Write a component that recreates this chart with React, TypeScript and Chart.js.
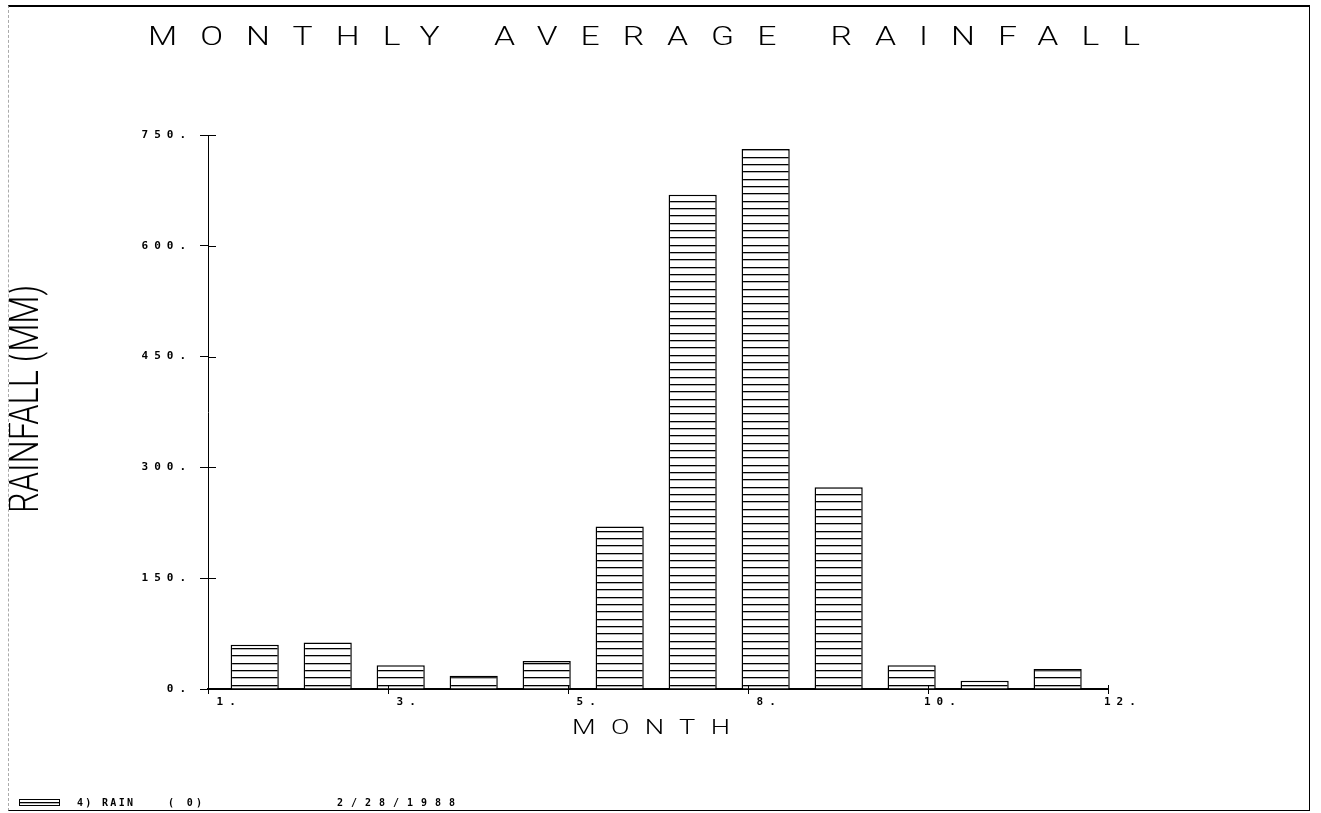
import React, { useEffect, useRef } from 'react';
import { Chart, registerables } from 'chart.js';

Chart.register(...registerables);

const TITLE = 'MONTHLY AVERAGE RAINFALL';
const X_TITLE = 'MONTH';
const Y_TITLE = 'RAINFALL (MM)';
const MONTHS = [1, 2, 3, 4, 5, 6, 7, 8, 9, 10, 11, 12];
const RAINFALL = [60, 63, 32, 18, 38, 220, 669, 731, 273, 32, 11, 27];
const Y_TICKS = [0, 150, 300, 450, 600, 750];
const X_TICKS = [1, 3.2, 5.4, 7.6, 9.8, 12];
const LEGEND_PARTS = ['4) RAIN', '( 0)', '2/28/1988'];

const MONO = '"DejaVu Sans Mono", monospace';

function makeStripes(ctx: CanvasRenderingContext2D): CanvasPattern | string {
  const c = document.createElement('canvas');
  c.width = 8;
  c.height = 22;
  const g = c.getContext('2d');
  if (!g) return '#fff';
  g.fillStyle = '#fff';
  g.fillRect(0, 0, 8, 22);
  g.fillStyle = '#000';
  [3, 10, 18].forEach((y) => g.fillRect(0, y, 8, 1.3));
  return ctx.createPattern(c, 'repeat') || '#fff';
}

function drawSpaced(
  ctx: CanvasRenderingContext2D,
  text: string,
  x: number,
  y: number,
  width: number,
  font: string,
  align: 'left' | 'center' = 'left',
  sx = 1
) {
  ctx.save();
  ctx.font = font;
  (ctx as any).letterSpacing = '0px';
  const local = width / sx;
  const w = ctx.measureText(text).width;
  const ls = text.length > 1 ? (local - w) / (text.length - 1) : 0;
  (ctx as any).letterSpacing = ls + 'px';
  ctx.textAlign = 'left';
  const start = align === 'center' ? x - width / 2 : x;
  ctx.translate(start, y);
  ctx.scale(sx, 1);
  ctx.fillText(text, 0, 0);
  ctx.restore();
}

export default function App() {
  const ref = useRef<HTMLCanvasElement>(null);

  useEffect(() => {
    const canvas = ref.current;
    if (!canvas) return;
    const ctx0 = canvas.getContext('2d');
    if (!ctx0) return;
    const stripes = makeStripes(ctx0);

    const decor = {
      id: 'decor',
      beforeDraw(chart: any) {
        (chart.ctx as any).letterSpacing = '6px';
      },
      afterDraw(chart: any) {
        const ctx: CanvasRenderingContext2D = chart.ctx;
        const { left, bottom } = chart.chartArea;
        ctx.save();
        (ctx as any).letterSpacing = '0px';
        ctx.strokeStyle = '#000';
        ctx.lineWidth = 1;
        // inner halves of the cross ticks
        const ys = chart.scales.y;
        ys.ticks.forEach((t: any) => {
          const py = Math.round(ys.getPixelForValue(t.value)) + 0.5;
          ctx.beginPath();
          ctx.moveTo(left, py);
          ctx.lineTo(left + 8, py);
          ctx.stroke();
        });
        const xs = chart.scales.x;
        xs.ticks.forEach((t: any) => {
          const px = Math.round(xs.getPixelForValue(t.value)) + 0.5;
          ctx.beginPath();
          ctx.moveTo(px, bottom);
          ctx.lineTo(px, bottom - 4);
          ctx.stroke();
        });

        ctx.fillStyle = '#000';
        ctx.textBaseline = 'alphabetic';
        // title
        drawSpaced(ctx, TITLE, 635, 38, 992, '300 25px Roboto, sans-serif', 'center', 1.35);
        // x axis title
        drawSpaced(ctx, X_TITLE, 642, 727, 158, '300 21px Roboto, sans-serif', 'center', 1.3);
        // y axis title (rotated, condensed)
        ctx.save();
        ctx.translate(18, 392);
        ctx.rotate(-Math.PI / 2);
        ctx.font = '300 42px Roboto, sans-serif';
        (ctx as any).letterSpacing = '0px';
        const w = ctx.measureText(Y_TITLE).width;
        ctx.scale(228 / w, 1);
        ctx.textAlign = 'center';
        ctx.textBaseline = 'middle';
        ctx.fillText(Y_TITLE, 0, 0);
        ctx.restore();

        // legend
        ctx.fillStyle = stripes as any;
        ctx.fillRect(10, 792, 40, 6);
        ctx.strokeRect(10.5, 792.5, 40, 6);
        ctx.fillStyle = '#000';
        ctx.textBaseline = 'middle';
        const font = 'bold 10px ' + MONO;
        drawSpaced(ctx, LEGEND_PARTS[0], 68, 796, 56, font);
        drawSpaced(ctx, LEGEND_PARTS[1], 159, 796, 34, font);
        drawSpaced(ctx, LEGEND_PARTS[2], 328, 796, 118, font);
        ctx.restore();
      },
    };

    const tickFont = { family: MONO, size: 11, weight: 'bold' as const };

    const chart = new Chart(canvas, {
      type: 'bar',
      data: {
        datasets: [
          {
            label: 'RAIN',
            data: MONTHS.map((m, i) => ({ x: m, y: RAINFALL[i] })),
            xAxisID: 'xb',
            yAxisID: 'y',
            backgroundColor: stripes as any,
            borderColor: '#000',
            borderWidth: 1.5,
            barPercentage: 0.66,
            categoryPercentage: 1,
          } as any,
        ],
      },
      options: {
        responsive: false,
        animation: false,
        devicePixelRatio: 1,
        layout: { padding: { left: 0, top: 128, right: 201, bottom: 91 } },
        plugins: {
          legend: { display: false },
          title: { display: false },
          tooltip: { enabled: false },
        },
        scales: {
          x: {
            type: 'linear',
            position: 'bottom',
            min: 1,
            max: 12,
            offset: false,
            z: 1,
            afterBuildTicks: (s: any) => {
              s.ticks = X_TICKS.map((v) => ({ value: v }));
            },
            afterFit: (s: any) => {
              s.height = 30;
            },
            ticks: {
              callback: (v: any) => String(Math.round(Number(v))).padStart(2, ' ') + '.',
              align: 'start',
              labelOffset: -4,
              padding: 2,
              color: '#000',
              font: tickFont,
              autoSkip: false,
              maxRotation: 0,
            },
            grid: { offset: false, drawOnChartArea: false, drawTicks: true, tickLength: 5, color: '#000', lineWidth: 1 },
            border: { display: true, color: '#000', width: 2 },
          } as any,
          xb: {
            type: 'linear',
            display: false,
            position: 'bottom',
            offset: false,
            grid: { offset: false },
            min: 0.36,
            max: 12.69,
          } as any,
          y: {
            type: 'linear',
            position: 'left',
            min: 0,
            max: 750,
            afterBuildTicks: (s: any) => {
              s.ticks = Y_TICKS.map((v) => ({ value: v }));
            },
            afterFit: (s: any) => {
              s.width = 199;
            },
            ticks: {
              callback: (v: any) => v + '.',
              padding: 8,
              color: '#000',
              font: tickFont,
            },
            grid: { drawOnChartArea: false, drawTicks: true, tickLength: 8, color: '#000', lineWidth: 1 },
            border: { display: true, color: '#000', width: 1 },
          } as any,
        },
      },
      plugins: [decor],
    });

    return () => chart.destroy();
  }, []);

  return (
    <div
      style={{
        position: 'absolute',
        left: 8,
        top: 5,
        width: 1302,
        height: 806,
        boxSizing: 'border-box',
        borderTop: '2px solid #000',
        borderRight: '1px solid #000',
        borderBottom: '1px solid #000',
        borderLeft: '1px dashed #aaa',
        background: '#fff',
      }}
    >
      <canvas ref={ref} width={1300} height={803} style={{ display: 'block' }} />
    </div>
  );
}
